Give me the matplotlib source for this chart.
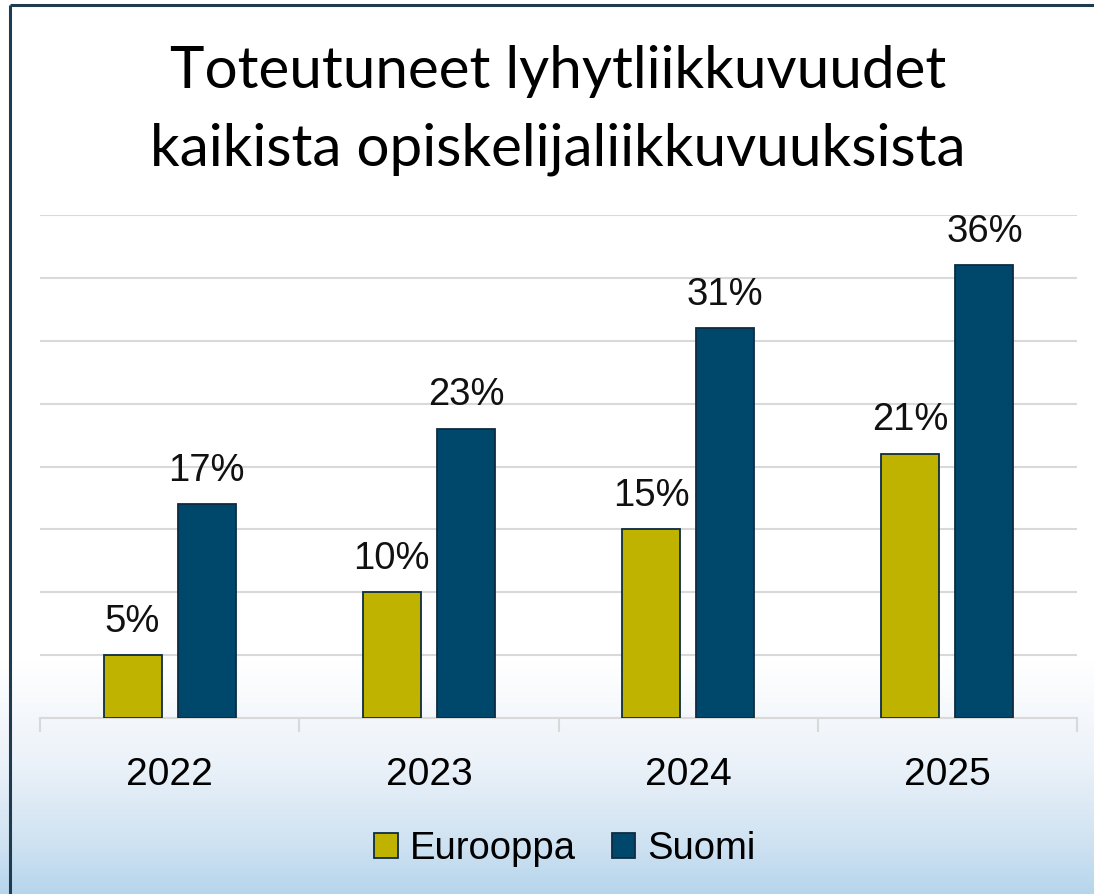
import numpy as np
import matplotlib
matplotlib.use("Agg")
import matplotlib.pyplot as plt
from matplotlib.patches import Patch

# data
years = ["2022", "2023", "2024", "2025"]
europe = [0.05, 0.10, 0.15, 0.21]
finland = [0.17, 0.23, 0.31, 0.36]
series_names = ["Eurooppa", "Suomi"]

olive = "#BFB300"
navy = "#00486B"
edge = "#0E2C40"

W, H = 1094, 894
fig = plt.figure(figsize=(W / 100, H / 100), dpi=100)

# background gradient: white at top, light blue towards bottom
bg = fig.add_axes([0, 0, 1, 1], zorder=-5)
ys = np.arange(H)
stops_y = [0, 660, 760, 840, 894]
stops_c = np.array([[255, 255, 255], [255, 255, 255], [236, 242, 249],
                    [208, 227, 242], [181, 213, 236]]) / 255
grad = np.stack([np.interp(ys, stops_y, stops_c[:, i]) for i in range(3)], axis=1)
img = np.repeat(grad[:, None, :], 2, axis=1)
bg.imshow(img, aspect="auto", extent=[0, W, H, 0])
bg.set_xlim(0, W)
bg.set_ylim(H, 0)
bg.axis("off")
# frame lines visible on top and left
bg.plot([10, W], [5, 5], color="#1F3B4F", lw=2.2, solid_capstyle="butt")
bg.plot([10, 10], [5, H], color="#1F3B4F", lw=2.2, solid_capstyle="butt")

ax = fig.add_axes([40 / W, 1 - 718 / H, (1077 - 40) / W, (718 - 215) / H])
ax.set_facecolor("none")

x = np.arange(len(years))
bw = 0.224
off = 0.143
b1 = ax.bar(x - off, europe, bw, color=olive, edgecolor=edge, linewidth=1.3, zorder=3)
b2 = ax.bar(x + off, finland, bw, color=navy, edgecolor=edge, linewidth=1.3, zorder=3)

for bars, vals in [(b1, europe), (b2, finland)]:
    for r, v in zip(bars, vals):
        ax.annotate(f"{v * 100:.0f}%", (r.get_x() + r.get_width() / 2, v),
                    xytext=(0, 17), textcoords="offset points",
                    ha="center", va="baseline", fontsize=27.5,
                    family="Liberation Sans", color="#111111")

ax.set_xlim(-0.5, 3.5)
ax.set_ylim(0, 0.40)
ax.set_yticks(np.arange(0, 0.401, 0.05))
ax.yaxis.grid(True, color="#D9D9D9", lw=1.5, zorder=0)
ax.tick_params(axis="y", left=False, labelleft=False)
for s in ["top", "right", "left"]:
    ax.spines[s].set_visible(False)
ax.spines["bottom"].set_color("#D9D9D9")
ax.spines["bottom"].set_linewidth(1.5)

ax.set_xticks(np.arange(-0.5, 3.6, 1.0))
ax.set_xticks(x, minor=True)
ax.set_xticklabels([])
ax.set_xticklabels(years, minor=True, fontsize=28, family="Liberation Sans")
ax.tick_params(axis="x", which="minor", length=0, pad=28)
ax.tick_params(axis="x", which="major", length=10, width=1.5, color="#D9D9D9")

fig.text(558 / W, 1 - 88 / H, "Toteutuneet lyhytliikkuvuudet", ha="center",
         va="baseline", fontsize=42, family="Lato", color="black")
fig.text(558 / W, 1 - 165 / H, "kaikista opiskelijaliikkuvuuksista", ha="center",
         va="baseline", fontsize=42, family="Lato", color="black")

handles = [Patch(facecolor=olive, edgecolor=edge, lw=1.3),
           Patch(facecolor=navy, edgecolor=edge, lw=1.3)]
fig.legend(handles, series_names, loc="center", bbox_to_anchor=(565 / W, 1 - 849 / H),
           ncol=2, frameon=False, prop={"family": "Liberation Sans", "size": 27.5},
           handlelength=0.62, handleheight=0.62, handletextpad=0.32, columnspacing=0.94)

fig.savefig("out.png", dpi=100)
